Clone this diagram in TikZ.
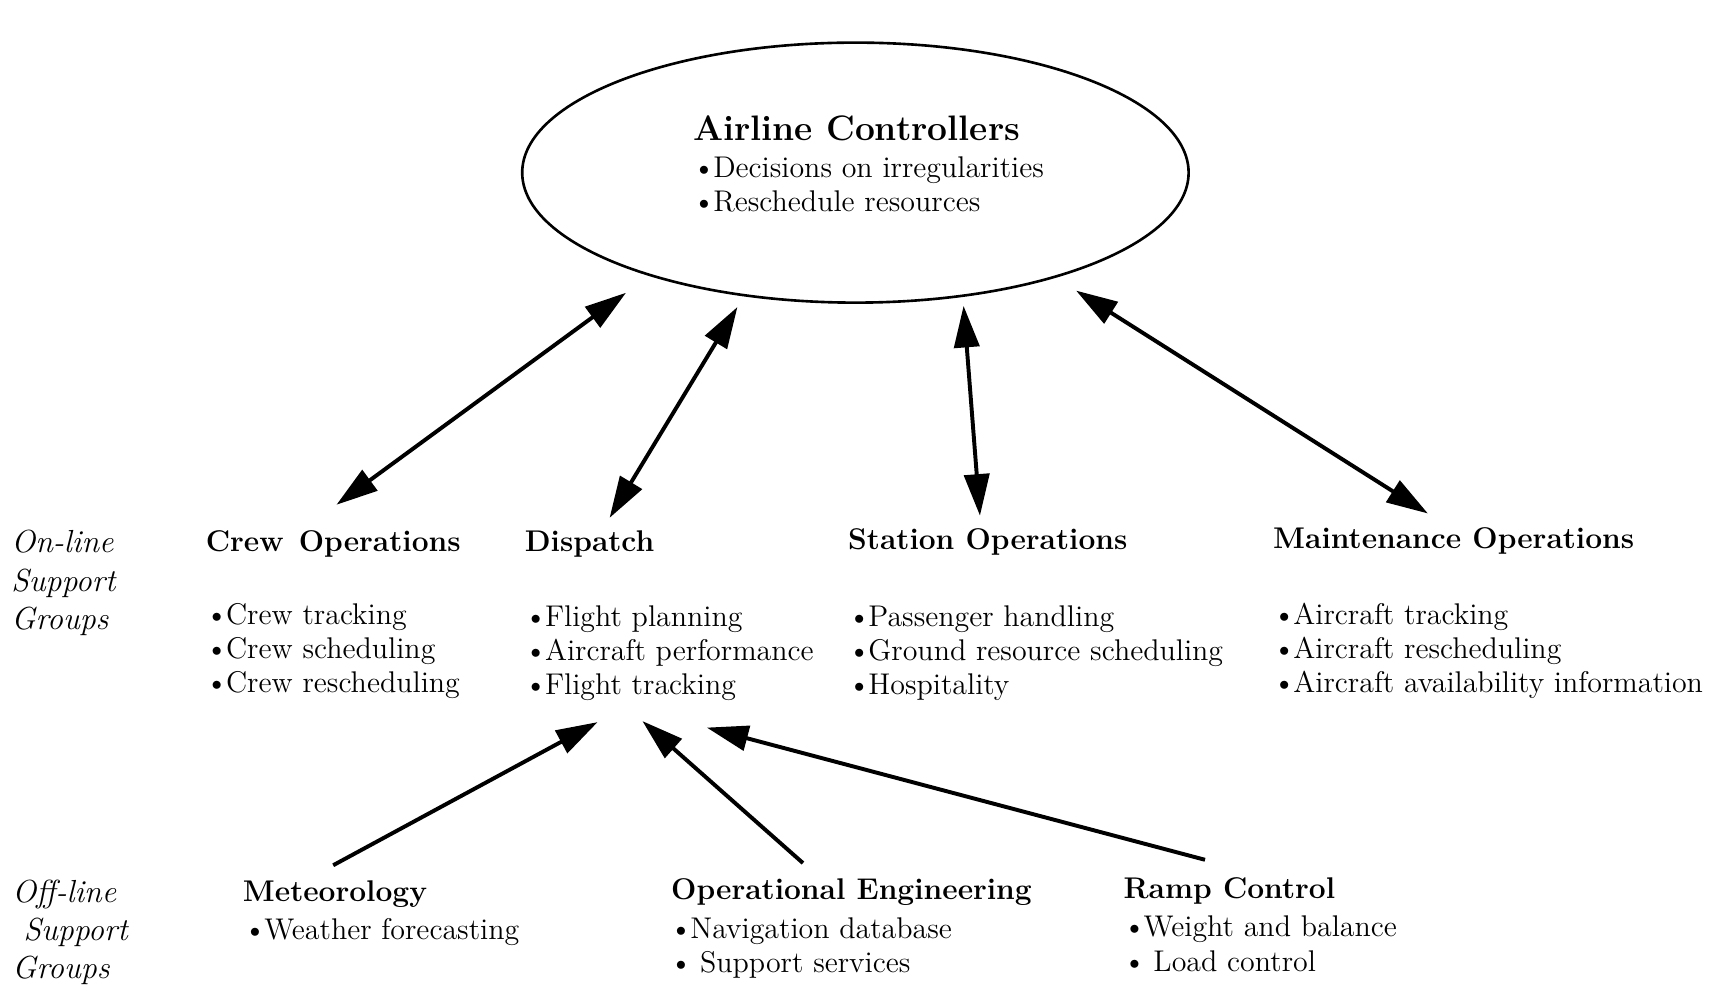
\documentclass[tikz,border=0pt]{standalone}
\usepackage{fontspec}
\usetikzlibrary{arrows.meta,shapes.geometric}
\newcommand\mybul{\kern-1.2pt•\kern-1.0pt}
\begin{document}
\begin{tikzpicture}[x=0.5pt,y=-0.5pt,
  title/.style={anchor=base west,inner sep=0pt,font=\fontsize{16.2}{18}\selectfont\bfseries},
  head/.style={anchor=base west,inner sep=0pt,font=\fontsize{13.7}{16}\selectfont\bfseries},
  txt/.style={anchor=base west,inner sep=0pt,align=left,font=\fontsize{13.7}{15.7}\selectfont},
  grp/.style={anchor=base west,inner sep=0pt,align=left,font=\fontsize{14.6}{17.5}\selectfont\itshape},
  link/.style={line width=1.8pt,{Triangle[length=19pt,width=11.5pt]}-{Triangle[length=19pt,width=11.5pt]}},
  feed/.style={line width=1.8pt,-{Triangle[length=19pt,width=11.5pt]}}]
\useasboundingbox (0,0) rectangle (1568,905);
% central ellipse
\node[draw,ellipse,line width=1.2pt,minimum width=305pt,minimum height=119pt,inner sep=0pt] (ac) at (783,158) {};
\node[title] (actitle) at (634,129) {Airline Controllers};
% multi-line nodes are placed by the baseline of their last line
\node[txt] (aclist) at (636,194) {\mybul Decisions on irregularities\\\mybul Reschedule resources};
% group labels
\node[grp] (online) at (10,576) {On-line\\Support\\Groups};
\node[grp] (offline) at (11,896) {Off-line\\\ Support\\Groups};
% on-line groups
\node[head] (crew) at (188,505) {Crew\hspace{7pt}Operations};
\node[txt] (crewl) at (190,634) {\mybul Crew tracking\\\mybul Crew scheduling\\\mybul Crew rescheduling};
\node[head] (disp) at (480,505) {Dispatch};
\node[txt] (displ) at (482,636) {\mybul Flight planning\\\mybul Aircraft performance\\\mybul Flight tracking};
\node[head] (stat) at (776,503) {Station Operations};
\node[txt] (statl) at (778,636) {\mybul Passenger handling\\\mybul Ground resource scheduling\\\mybul Hospitality};
\node[head] (maint) at (1165,502) {Maintenance Operations};
\node[txt] (maintl) at (1167,634) {\mybul Aircraft tracking\\\mybul Aircraft rescheduling\\\mybul Aircraft availability information};
% off-line groups
\node[head] (met) at (222,825) {Meteorology};
\node[txt] (metl) at (225,860) {\mybul Weather forecasting};
\node[head] (openg) at (614,823) {Operational Engineering};
\node[txt] (opengl) at (615,890) {\mybul Navigation database\\\mybul\ Support services};
\node[head] (ramp) at (1028,822) {Ramp Control};
\node[txt] (rampl) at (1030,889) {\mybul Weight and balance\\\mybul\ Load control};
% connector end points
\coordinate (acA) at (573,268);
\coordinate (acB) at (675,281);
\coordinate (acC) at (882,280);
\coordinate (acD) at (985,266);
\coordinate (crewT) at (308,462);
\coordinate (dispT) at (558,474);
\coordinate (statT) at (897,472);
\coordinate (maintT) at (1307,470);
\coordinate (dispA) at (547,661);
\coordinate (dispB) at (588,660);
\coordinate (dispC) at (647,666);
\coordinate (metT) at (305,792);
\coordinate (opengT) at (735,790);
\coordinate (rampT) at (1103,787);
% connectors
\draw[link] (crewT) -- (acA);
\draw[link] (dispT) -- (acB);
\draw[link] (statT) -- (acC);
\draw[link] (maintT) -- (acD);
\draw[feed] (metT) -- (dispA);
\draw[feed] (opengT) -- (dispB);
\draw[feed] (rampT) -- (dispC);
\end{tikzpicture}
\end{document}
